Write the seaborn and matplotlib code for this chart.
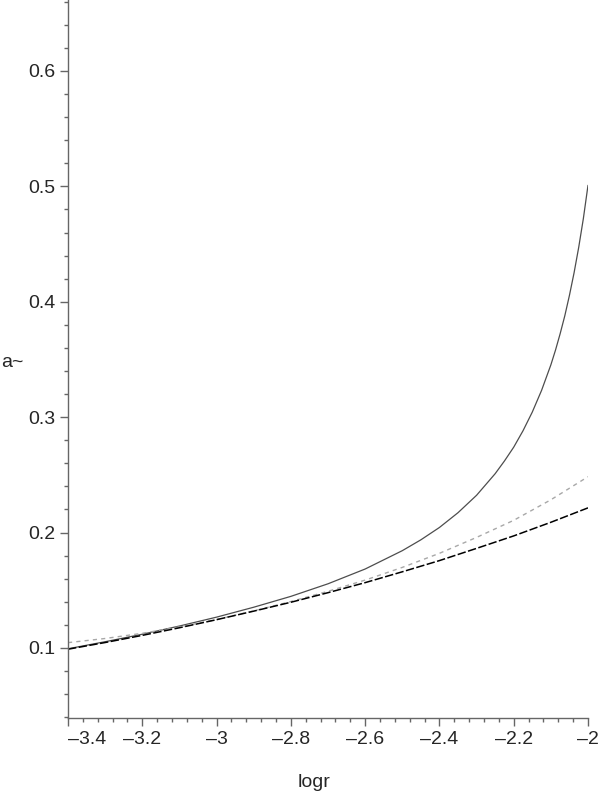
import numpy as np
import pandas as pd
import matplotlib
matplotlib.use("Agg")
import matplotlib.pyplot as plt
import seaborn as sns
from matplotlib.ticker import MultipleLocator, FuncFormatter

# values
logr = [-3.4, -3.3, -3.2, -3.1, -3.0, -2.9, -2.8, -2.7, -2.6, -2.5,
        -2.4, -2.3, -2.2, -2.1, -2.0]
a_lead = [0.0989, 0.1047, 0.1109, 0.1175, 0.1245, 0.1319, 0.1396, 0.1479,
          0.1566, 0.1660, 0.1757, 0.1863, 0.1971, 0.2089, 0.2214]
a_approx = [0.1046, 0.1082, 0.1127, 0.1182, 0.1246, 0.1321, 0.1402, 0.1491,
            0.1588, 0.1698, 0.1820, 0.1958, 0.2106, 0.2284, 0.2484]

logr_full = [-3.4, -3.3, -3.2, -3.1, -3.0, -2.9, -2.8, -2.7, -2.6, -2.5,
             -2.45, -2.4, -2.35, -2.3, -2.25, -2.225, -2.2, -2.175, -2.15,
             -2.125, -2.1, -2.0875, -2.075, -2.0625, -2.05, -2.0375, -2.025,
             -2.0125, -2.0]
a_full = [0.0993, 0.1054, 0.1119, 0.1190, 0.1267, 0.1353, 0.1447, 0.1556,
          0.1684, 0.1843, 0.1937, 0.2044, 0.2172, 0.2323, 0.2510, 0.2620,
          0.2740, 0.2882, 0.3044, 0.3232, 0.3453, 0.3581, 0.3723, 0.3878,
          0.4055, 0.4251, 0.4472, 0.4721, 0.5009]

sns.set_style("white")
plt.rcParams['font.family'] = ['Liberation Sans', 'DejaVu Sans']

fig = plt.figure(figsize=(6, 7.92), dpi=100)
ax = fig.add_axes([68 / 600, 1 - 718 / 792, 520 / 600, 718 / 792])

axis_col = '#666666'

sns.lineplot(x=logr_full, y=a_full, ax=ax, color='#4d4d4d', lw=0.9,
             sort=False, estimator=None)
sns.lineplot(x=logr, y=a_approx, ax=ax, color='#a8a8a8', lw=1.0,
             sort=False, estimator=None)
sns.lineplot(x=logr, y=a_lead, ax=ax, color='black', lw=1.1,
             sort=False, estimator=None)
ax.lines[1].set_dashes((3, 3))
ax.lines[2].set_dashes((5.5, 1.6))

ax.set_xlim(-3.4, -2.0)
ax.set_ylim(0.0393, 0.6615)

for s in ['top', 'right']:
    ax.spines[s].set_visible(False)
for s in ['left', 'bottom']:
    ax.spines[s].set_color(axis_col)
    ax.spines[s].set_linewidth(1.0)

x_major = [-3.4, -3.2, -3.0, -2.8, -2.6, -2.4, -2.2, -2.0]
ax.set_xticks(x_major)
ax.xaxis.set_minor_locator(MultipleLocator(0.04))
ax.yaxis.set_major_locator(MultipleLocator(0.1))
ax.yaxis.set_minor_locator(MultipleLocator(0.02))

fmt = FuncFormatter(lambda v, p: ('%g' % round(v, 4)).replace('-', '\u2013'))
ax.xaxis.set_major_formatter(fmt)
ax.yaxis.set_major_formatter(fmt)

ax.tick_params(which='major', length=6, width=1, color=axis_col,
               labelsize=14, pad=3, direction='out', left=True, bottom=True)
ax.tick_params(which='minor', length=3, width=1, color=axis_col,
               direction='out', left=True, bottom=True)

ax.set_xlabel('')
ax.set_ylabel('')

fig.canvas.draw()
for t in ax.xaxis.get_major_ticks():
    if abs(t.get_loc() + 3.4) < 1e-6:
        t.label1.set_horizontalalignment('left')

fig.text(0.002, 1 - 367 / 792, 'a~', fontsize=14, ha='left', va='baseline')
fig.text(314 / 600, 1 - 787 / 792, 'logr', fontsize=14, ha='center',
         va='baseline')

fig.savefig('out.png', dpi=100)
